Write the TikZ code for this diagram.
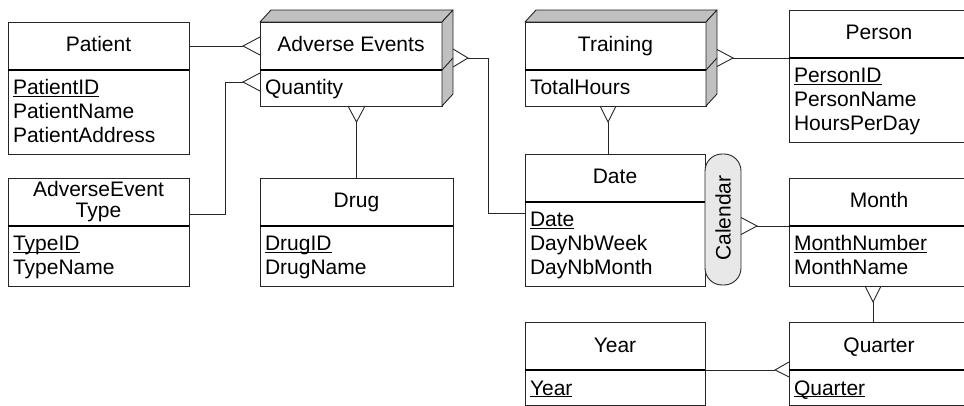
\documentclass[tikz,border=0pt]{standalone}
\usepackage{fontspec}
\setmainfont{Liberation Sans}
\definecolor{facegray}{HTML}{C0C0C0}
\definecolor{pillgray}{HTML}{E8E8E8}
\definecolor{linec}{HTML}{262626}
\newcommand\keyattr[1]{\setbox0\hbox{#1}\rlap{\rule[-2.3pt]{\wd0}{0.9pt}}\box0}
\begin{document}
\begin{tikzpicture}[
  x=1pt, y=-1pt,
  every node/.style={font=\fontsize{21}{21}\selectfont, inner sep=0pt, outer sep=0pt},
  ebox/.style={draw=linec, line width=0.9pt, anchor=north west, inner sep=0pt, outer sep=0pt},
  hbox/.style={ebox, text height=15pt, text depth=3pt},
  div/.style={draw=black, line width=1.2pt},
  conn/.style={draw=linec, line width=0.9pt},
  attr/.style={anchor=base west},
  face/.style={fill=facegray, draw=linec, line width=0.9pt, line join=round},
  pill/.style={draw=linec, fill=pillgray, line width=0.9pt, rounded corners=17pt, anchor=north west}
]
\useasboundingbox (0,0) rectangle (964,406);
\clip (0,0) rectangle (964,406);

% ---------- Patient
\node[hbox, minimum width=181pt, minimum height=48pt] (patH) at (8,22) {Patient};
\node[ebox, minimum width=181pt, minimum height=84pt] (patB) at (8,70) {};
\draw[div] (patB.north west) -- (patB.north east);
\node[attr] (patA1) at ([shift={(5,25)}]patB.north west) {\keyattr{PatientID}};
\node[attr] (patA2) at ([shift={(5,49)}]patB.north west) {PatientName};
\node[attr] (patA3) at ([shift={(5,73)}]patB.north west) {PatientAddress};

% ---------- AdverseEvent Type
\node[ebox, minimum width=181pt, minimum height=48pt, align=center] (aetH) at (8,178) {AdverseEvent\\Type};
\node[ebox, minimum width=181pt, minimum height=60pt] (aetB) at (8,226) {};
\draw[div] (aetB.north west) -- (aetB.north east);
\node[attr] (aetA1) at ([shift={(5,25)}]aetB.north west) {\keyattr{TypeID}};
\node[attr] (aetA2) at ([shift={(5,49)}]aetB.north west) {TypeName};

% ---------- Adverse Events (fact)
\node[hbox, minimum width=182pt, minimum height=48pt] (aeH) at (260,22) {Adverse Events};
\node[ebox, minimum width=182pt, minimum height=36pt] (aeB) at (260,70) {};
\coordinate (aeTL) at ([shift={(11,-12)}]aeH.north west);
\coordinate (aeTR) at ([shift={(11,-12)}]aeH.north east);
\coordinate (aeBR) at ([shift={(11,-12)}]aeB.south east);
\coordinate (aeS) at ([shift={(11,-12)}]aeB.north east);
\draw[face] (aeH.north west) -- (aeTL) -- (aeTR) -- (aeH.north east) -- cycle;
\draw[face] (aeH.north east) -- (aeTR) -- (aeBR) -- (aeB.south east) -- cycle;
\draw[conn] (aeB.north east) -- (aeS);
\draw[div] (aeB.north west) -- (aeB.north east);
\node[attr] (aeA1) at ([shift={(5,25)}]aeB.north west) {Quantity};

% ---------- Drug
\node[hbox, minimum width=193pt, minimum height=48pt] (drgH) at (260,178) {Drug};
\node[ebox, minimum width=193pt, minimum height=60pt] (drgB) at (260,226) {};
\draw[div] (drgB.north west) -- (drgB.north east);
\node[attr] (drgA1) at ([shift={(5,25)}]drgB.north west) {\keyattr{DrugID}};
\node[attr] (drgA2) at ([shift={(5,49)}]drgB.north west) {DrugName};

% ---------- Training (fact)
\node[hbox, minimum width=181pt, minimum height=48pt] (trH) at (525,22) {Training};
\node[ebox, minimum width=181pt, minimum height=36pt] (trB) at (525,70) {};
\coordinate (trTL) at ([shift={(11,-12)}]trH.north west);
\coordinate (trTR) at ([shift={(11,-12)}]trH.north east);
\coordinate (trBR) at ([shift={(11,-12)}]trB.south east);
\coordinate (trS) at ([shift={(11,-12)}]trB.north east);
\draw[face] (trH.north west) -- (trTL) -- (trTR) -- (trH.north east) -- cycle;
\draw[face] (trH.north east) -- (trTR) -- (trBR) -- (trB.south east) -- cycle;
\draw[conn] (trB.north east) -- (trS);
\draw[div] (trB.north west) -- (trB.north east);
\node[attr] (trA1) at ([shift={(5,25)}]trB.north west) {TotalHours};

% ---------- Person
\node[hbox, minimum width=180pt, minimum height=48pt] (perH) at (789,10) {Person};
\node[ebox, minimum width=180pt, minimum height=84pt] (perB) at (789,58) {};
\draw[div] (perB.north west) -- (perB.north east);
\node[attr] (perA1) at ([shift={(5,25)}]perB.north west) {\keyattr{PersonID}};
\node[attr] (perA2) at ([shift={(5,49)}]perB.north west) {PersonName};
\node[attr] (perA3) at ([shift={(5,73)}]perB.north west) {HoursPerDay};

% ---------- Date
\node[hbox, minimum width=180pt, minimum height=48pt] (datH) at (525,154) {Date};
\node[ebox, minimum width=180pt, minimum height=84pt] (datB) at (525,202) {};
\draw[div] (datB.north west) -- (datB.north east);
\node[attr] (datA1) at ([shift={(5,25)}]datB.north west) {\keyattr{Date}};
\node[attr] (datA2) at ([shift={(5,49)}]datB.north west) {DayNbWeek};
\node[attr] (datA3) at ([shift={(5,73)}]datB.north west) {DayNbMonth};

% ---------- Calendar hierarchy pill
\node[pill, minimum width=36pt, minimum height=131pt] (cal) at (705,154) {};
\node[rotate=90] (calT) at ([yshift=1.5pt]cal.center) {Calendar};

% ---------- Month
\node[hbox, minimum width=180pt, minimum height=48pt] (monH) at (789,178) {Month};
\node[ebox, minimum width=180pt, minimum height=60pt] (monB) at (789,226) {};
\draw[div] (monB.north west) -- (monB.north east);
\node[attr] (monA1) at ([shift={(5,25)}]monB.north west) {\keyattr{MonthNumber}};
\node[attr] (monA2) at ([shift={(5,49)}]monB.north west) {MonthName};

% ---------- Year
\node[hbox, minimum width=180pt, minimum height=48pt] (yrH) at (525,322) {Year};
\node[ebox, minimum width=180pt, minimum height=35pt] (yrB) at (525,370) {};
\draw[div] (yrB.north west) -- (yrB.north east);
\node[attr] (yrA1) at ([shift={(5,25)}]yrB.north west) {\keyattr{Year}};

% ---------- Quarter
\node[hbox, minimum width=180pt, minimum height=48pt] (quH) at (789,322) {Quarter};
\node[ebox, minimum width=180pt, minimum height=35pt] (quB) at (789,370) {};
\draw[div] (quB.north west) -- (quB.north east);
\node[attr] (quA1) at ([shift={(5,25)}]quB.north west) {\keyattr{Quarter}};

% ---------- Connectors
% Patient -- Adverse Events
\draw[conn] (patH.east) -- ([xshift=-17pt]aeH.west);
\draw[conn] ([yshift=9pt]aeH.west) -- ([xshift=-17pt]aeH.west) -- ([yshift=-9pt]aeH.west);

% AdverseEvent Type -- Adverse Events
\draw[conn] ([yshift=12pt]aetH.south east) -| ([xshift=-35pt,yshift=6pt]aeB.west) -- ([xshift=-17pt,yshift=6pt]aeB.west);
\draw[conn] ([yshift=15pt]aeB.west) -- ([xshift=-17pt,yshift=6pt]aeB.west) -- ([yshift=-3pt]aeB.west);

% Adverse Events -- Drug
\coordinate (c3) at (drgH.north |- aeB.south);
\draw[conn] (drgH.north) -- ([yshift=-16pt]c3);
\draw[conn] ([xshift=-8.5pt]c3) -- ([yshift=-16pt]c3) -- ([xshift=8.5pt]c3);

% Adverse Events -- Date
\draw[conn] ([yshift=-11pt]datB.north west) -| ([xshift=35pt]aeS) -- ([xshift=15pt]aeS);
\draw[conn] ([yshift=9pt]aeS) -- ([xshift=15pt]aeS) -- ([yshift=-9pt]aeS);

% Training -- Person
\draw[conn] (perB.north west) -- ([xshift=16pt]trS);
\draw[conn] ([yshift=8.5pt]trS) -- ([xshift=16pt]trS) -- ([yshift=-8.5pt]trS);

% Training -- Date
\coordinate (c6) at ([xshift=-7pt]datH.north |- trB.south);
\draw[conn] ([xshift=-7pt]datH.north) -- ([yshift=-16pt]c6);
\draw[conn] ([xshift=-8pt]c6) -- ([yshift=-16pt]c6) -- ([xshift=8pt]c6);

% Calendar -- Month
\coordinate (c7) at (cal.east |- monB.north west);
\draw[conn] (monB.north west) -- ([xshift=16pt]c7);
\draw[conn] ([yshift=8.5pt]c7) -- ([xshift=16pt]c7) -- ([yshift=-8.5pt]c7);

% Month -- Quarter
\coordinate (c8) at ([xshift=-6pt]quH.north |- monB.south);
\draw[conn] ([xshift=-6pt]quH.north) -- ([yshift=-16pt]c8);
\draw[conn] ([xshift=-8pt]c8) -- ([yshift=-16pt]c8) -- ([xshift=8pt]c8);

% Year -- Quarter
\draw[conn] (yrB.north east) -- ([xshift=-14pt]quB.north west);
\draw[conn] ([yshift=8pt]quB.north west) -- ([xshift=-14pt]quB.north west) -- ([yshift=-7pt]quB.north west);
\end{tikzpicture}
\end{document}
